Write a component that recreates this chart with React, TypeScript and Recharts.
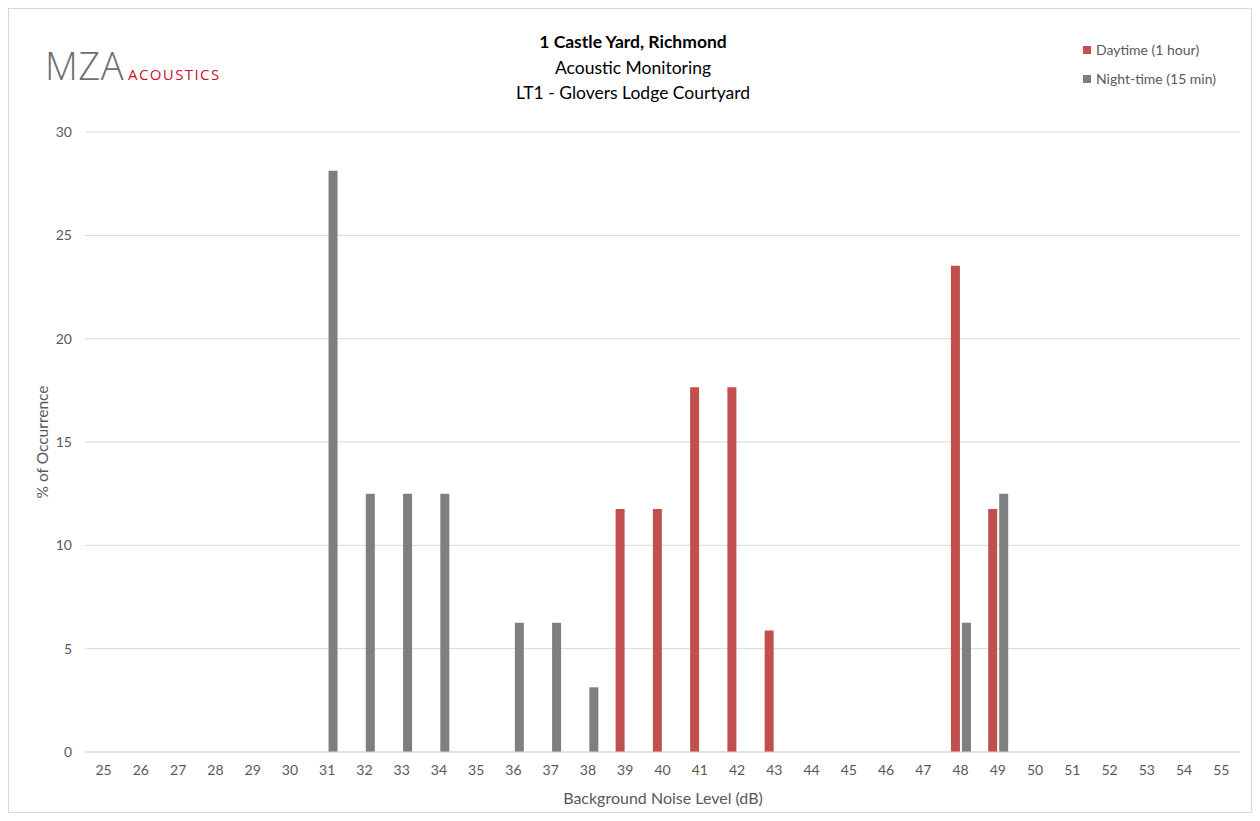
import { BarChart, Bar, XAxis, YAxis, CartesianGrid } from 'recharts';

const levels = ['25', '26', '27', '28', '29', '30', '31', '32', '33', '34', '35', '36', '37', '38', '39', '40',
    '41', '42', '43', '44', '45', '46', '47', '48', '49', '50', '51', '52', '53', '54', '55'];

const daytime = [0, 0, 0, 0, 0, 0, 0, 0, 0, 0, 0, 0, 0, 0, 11.76, 11.76,
    17.65, 17.65, 5.88, 0, 0, 0, 0, 23.53, 11.76, 0, 0, 0, 0, 0, 0];

const nightTime = [0, 0, 0, 0, 0, 0, 28.13, 12.5, 12.5, 12.5, 0, 6.25, 6.25, 3.13, 0, 0,
    0, 0, 0, 0, 0, 0, 0, 6.25, 12.5, 0, 0, 0, 0, 0, 0];

const yTicks = [0, 5, 10, 15, 20, 25, 30];

const RED = '#c0504d';
const GREY = '#7f7f7f';
const FONT = 'Lato, "Open Sans", sans-serif';

const data = levels.map((level, i) => ({ level, day: daytime[i], night: nightTime[i] }));

const legendItems = [
    { label: 'Daytime (1 hour)', color: RED },
    { label: 'Night-time (15 min)', color: GREY },
];

export default function App() {
    return (
        <div style={{ position: 'relative', width: 1244, height: 805, border: '1px solid #d9d9d9', boxSizing: 'border-box', background: '#fff' }}>
            <div style={{ position: 'absolute', left: 36, top: 30, display: 'flex', alignItems: 'baseline', whiteSpace: 'nowrap' }}>
                <span style={{ fontFamily: '"Open Sans", sans-serif', fontWeight: 300, fontSize: 38, letterSpacing: 0.5, color: '#6d6e71' }}>MZA</span>
                <span style={{ fontFamily: '"Open Sans", sans-serif', fontSize: 15, letterSpacing: 1.4, color: '#c8102e', marginLeft: 4 }}>ACOUSTICS</span>
            </div>
            <div style={{ position: 'absolute', left: 0, width: 1248, top: 20, textAlign: 'center', fontFamily: FONT, fontSize: 17.5, color: '#000', lineHeight: '25.5px' }}>
                <div style={{ fontWeight: 700 }}>1 Castle Yard, Richmond</div>
                <div>Acoustic Monitoring</div>
                <div>LT1 - Glovers Lodge Courtyard</div>
            </div>
            <div style={{ position: 'absolute', left: 1074, top: 26, fontFamily: FONT, fontSize: 14, color: '#595959' }}>
                {legendItems.map((it) => (
                    <div key={it.label} style={{ display: 'flex', alignItems: 'center', height: 29 }}>
                        <span style={{ width: 8, height: 8, background: it.color, marginRight: 5, display: 'inline-block' }} />
                        {it.label}
                    </div>
                ))}
            </div>
            <div style={{ position: 'absolute', left: 33, top: 433, transform: 'translate(-50%, -50%) rotate(-90deg)', fontFamily: FONT, fontSize: 15.5, color: '#595959', whiteSpace: 'nowrap' }}>
                % of Occurrence
            </div>
            <div style={{ position: 'absolute', left: 0, width: 1308, top: 779, textAlign: 'center', fontFamily: FONT, fontSize: 16, color: '#595959' }}>
                Background Noise Level (dB)
            </div>
            <BarChart
                width={1244}
                height={805}
                data={data}
                margin={{ top: 123, right: 13, left: 26, bottom: 32 }}
                barSize={9}
                barGap={2}
                style={{ position: 'absolute', left: 0, top: 0 }}
            >
                <CartesianGrid vertical={false} stroke="#d9d9d9" />
                <XAxis
                    dataKey="level"
                    interval={0}
                    height={30}
                    tickLine={false}
                    axisLine={{ stroke: '#d9d9d9' }}
                    tickMargin={7}
                    tick={{ fill: '#595959', fontSize: 14, fontFamily: FONT }}
                />
                <YAxis
                    width={50}
                    domain={[0, 30]}
                    ticks={yTicks}
                    interval={0}
                    tickLine={false}
                    axisLine={false}
                    tickMargin={7}
                    tick={{ fill: '#595959', fontSize: 14, fontFamily: FONT }}
                />
                <Bar dataKey="day" name="Daytime (1 hour)" fill={RED} isAnimationActive={false} />
                <Bar dataKey="night" name="Night-time (15 min)" fill={GREY} isAnimationActive={false} />
            </BarChart>
        </div>
    );
}
